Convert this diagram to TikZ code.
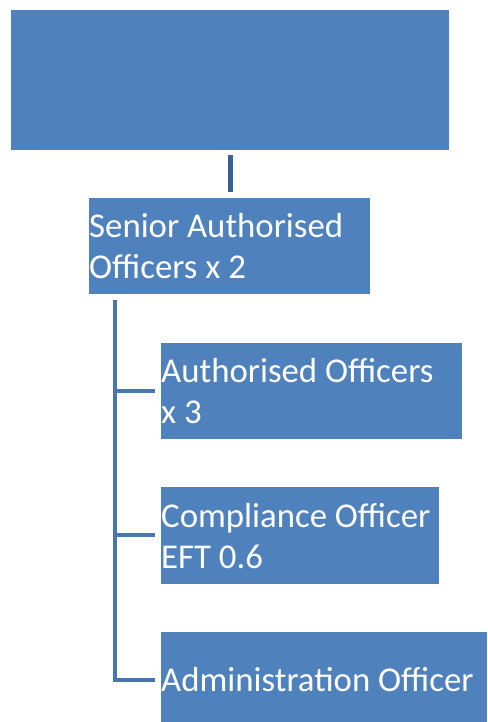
\documentclass[tikz,border=0pt]{standalone}
\usepackage{fontspec}
\setmainfont{Carlito}
\definecolor{boxblue}{HTML}{4F81BD}
\definecolor{lineA}{HTML}{3A6194}
\definecolor{lineB}{HTML}{4A76AE}
\begin{document}
\begin{tikzpicture}[x=1pt,y=-1pt,
  box/.style={fill=boxblue,draw=none,inner sep=0pt,anchor=north west},
  lbl/.style={text=white,inner sep=0pt,anchor=base west,align=left,
    font=\fontsize{34.8}{41}\selectfont},
  conn/.style={draw=lineB,line width=4pt}]
\useasboundingbox (0,0) rectangle (487,722);
\node[box,minimum width=438pt,minimum height=140pt] (top) at (11,10) {};
\node[box,minimum width=281pt,minimum height=96pt] (sao) at (89,198) {};
\node[box,minimum width=301pt,minimum height=96pt] (ao) at (161,343) {};
\node[box,minimum width=278pt,minimum height=97pt] (co) at (161,487) {};
\node[box,minimum width=326pt,minimum height=90pt] (adm) at (161,632) {};
\node[lbl] (saot) at (89,278) {Senior Authorised\\Officers x 2};
\node[lbl] (aot) at (161,423) {Authorised Officers\\x 3};
\node[lbl] (cot) at (161,568) {Compliance Officer\\EFT 0.6};
\node[lbl] (admt) at (161,691) {Administration Officer};
\coordinate (t1) at (230,155);
\coordinate (t2) at (230,192);
\draw[draw=lineA,line width=5pt] (t1) -- (t2);
\coordinate (v0) at (115,300);
\coordinate (b1) at (115,391);
\coordinate (b2) at (115,535);
\coordinate (b3) at (115,680);
\coordinate (e1) at (155,391);
\coordinate (e2) at (155,535);
\coordinate (e3) at (155,680);
\draw[conn] (v0) -- (b3) -- (e3);
\draw[conn] (b1) -- (e1);
\draw[conn] (b2) -- (e2);
\end{tikzpicture}
\end{document}
